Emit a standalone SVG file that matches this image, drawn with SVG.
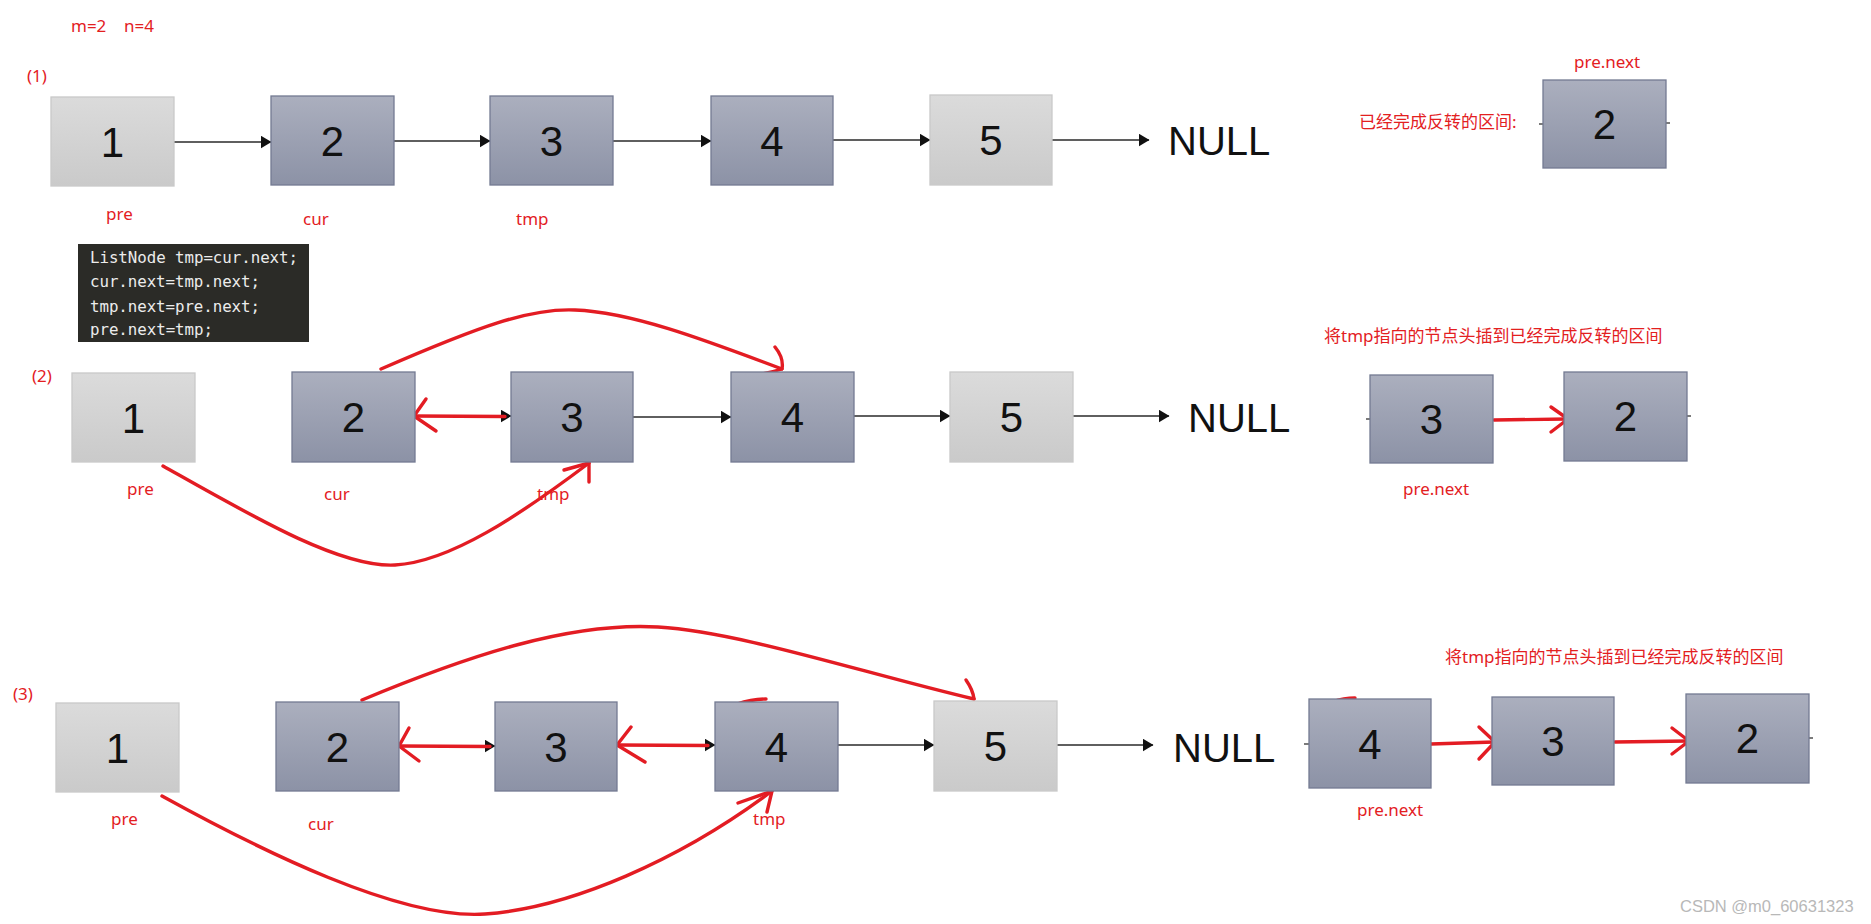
<svg xmlns="http://www.w3.org/2000/svg" width="1871" height="924" viewBox="0 0 1871 924">
<style>
.dk{fill:url(#gDark);stroke:#737a92;stroke-width:1.3}
.lt{fill:url(#gLight);stroke:#c9c9c9;stroke-width:1.3}
.num{font-family:"Liberation Sans",Arial,sans-serif;font-size:42px;fill:#111;text-anchor:middle}
.null{font-family:"Liberation Sans",Arial,sans-serif;font-size:40px;fill:#111}
.red{font-family:"Noto Sans","Noto Sans CJK SC",sans-serif;font-size:17px;fill:#e3201f}
.code{font-family:"DejaVu Sans Mono","Liberation Mono",monospace;font-size:15.8px;fill:#ececec}
.blk{stroke:#2a2a2a;stroke-width:1.4;fill:none;marker-end:url(#ah)}
.pen{stroke:#e31c23;stroke-width:3.4;fill:none;stroke-linecap:round;stroke-linejoin:round}
.tick{stroke:#333;stroke-width:1.3}
.wm{font-family:"Liberation Sans",Arial,sans-serif;font-size:16.5px;fill:#b8b8b8}
</style>
<defs>
<linearGradient id="gDark" x1="0" y1="0" x2="0" y2="1">
<stop offset="0" stop-color="#abafbe"/>
<stop offset="1" stop-color="#8c92a6"/>
</linearGradient>
<linearGradient id="gLight" x1="0" y1="0" x2="0" y2="1">
<stop offset="0" stop-color="#dbdbdb"/>
<stop offset="1" stop-color="#cacaca"/>
</linearGradient>
<marker id="ah" markerUnits="userSpaceOnUse" markerWidth="11" markerHeight="13" refX="10.5" refY="6.5" orient="auto">
<path d="M0,0 L11,6.5 L0,13 z" fill="#111"/>
</marker>
</defs>
<rect width="1871" height="924" fill="#fff"/>

<!-- headings -->
<text class="red" x="71" y="32">m=2<tspan x="124">n=4</tspan></text>
<text class="red" x="27" y="82">(1)</text>
<text class="red" x="32" y="382">(2)</text>
<text class="red" x="13" y="700">(3)</text>

<!-- code box -->
<g id="code">
<rect x="78" y="244" width="231" height="98" fill="#2b2b27"/>
<text class="code" x="90" y="263" textLength="208" lengthAdjust="spacing">ListNode tmp=cur.next;</text>
<text class="code" x="90" y="287" textLength="170" lengthAdjust="spacing">cur.next=tmp.next;</text>
<text class="code" x="90" y="312" textLength="170" lengthAdjust="spacing">tmp.next=pre.next;</text>
<text class="code" x="90" y="335" textLength="123" lengthAdjust="spacing">pre.next=tmp;</text>
</g>

<!-- connectors -->
<g id="connectors">
<!-- row 1 -->
<line class="blk" x1="174" y1="142" x2="271" y2="142"/>
<line class="blk" x1="394" y1="141" x2="490" y2="141"/>
<line class="blk" x1="613" y1="141" x2="711" y2="141"/>
<line class="blk" x1="833" y1="140" x2="930" y2="140"/>
<line class="blk" x1="1052" y1="140" x2="1149" y2="140"/>
<line class="tick" x1="1539" y1="124" x2="1543" y2="124"/>
<line class="tick" x1="1666" y1="123" x2="1670" y2="123"/>
<!-- row 2 -->
<line class="blk" x1="415" y1="416" x2="511" y2="416"/>
<line class="blk" x1="633" y1="417" x2="731" y2="417"/>
<line class="blk" x1="854" y1="416" x2="950" y2="416"/>
<line class="blk" x1="1073" y1="416" x2="1169" y2="416"/>
<line class="tick" x1="1366" y1="419" x2="1370" y2="419"/>
<line class="tick" x1="1687" y1="416" x2="1691" y2="416"/>
<path class="pen" d="M414,416 L505,416.5"/>
<path class="pen" d="M426,399 L414,416 L436,431"/>
<path class="pen" d="M381,369 C480,326 530,308 575,310 C630,312 700,338 782,369"/>
<path class="pen" d="M775,347 Q784,358 782,369 Q766,374 753,375"/>
<path class="pen" d="M163,466 C250,515 340,568 395,565 C450,562 520,515 589,463"/>
<path class="pen" d="M564,470 L589,463 L589,482"/>
<path class="pen" d="M1494,420 L1567,419"/>
<path class="pen" d="M1551,407 L1568,419 L1551,432"/>
<!-- row 3 -->
<line class="blk" x1="399" y1="746" x2="495" y2="746"/>
<line class="blk" x1="617" y1="745" x2="715" y2="745"/>
<line class="blk" x1="838" y1="745" x2="934" y2="745"/>
<line class="blk" x1="1057" y1="745" x2="1153" y2="745"/>
<line class="tick" x1="1304" y1="744" x2="1309" y2="744"/>
<line class="tick" x1="1809" y1="738" x2="1813" y2="738"/>
<path class="pen" d="M399,746 L490,746.5"/>
<path class="pen" d="M409,728 L399,746 L419,761"/>
<path class="pen" d="M617,745 L708,745.5"/>
<path class="pen" d="M631,727 L617,745 L645,762"/>
<path class="pen" d="M362,700 C470,655 570,622 658,627 C740,632 860,672 974,699"/>
<path class="pen" d="M966,680 Q973,690 974,699"/>
<path class="pen" d="M737,704 Q752,699 766,699" stroke-width="2.2"/>
<path class="pen" d="M162,796 C260,850 400,920 485,914 C570,908 680,860 772,791"/>
<path class="pen" d="M738,803 L772,791 L767,812"/>
<path class="pen" d="M1431,744 L1494,742"/>
<path class="pen" d="M1479,727 L1495,742 L1479,759"/>
<path class="pen" d="M1615,742 L1688,741"/>
<path class="pen" d="M1672,728 L1689,741 L1672,754"/>
<path class="pen" d="M1332,702 Q1344,698 1355,698" stroke-width="2.2"/>
</g>

<!-- row 1 nodes -->
<g id="r1n1"><rect class="lt" x="51" y="97" width="123" height="89"/><text class="num" x="112.5" y="157">1</text></g>
<g id="r1n2"><rect class="dk" x="271" y="96" width="123" height="89"/><text class="num" x="332.5" y="156">2</text></g>
<g id="r1n3"><rect class="dk" x="490" y="96" width="123" height="89"/><text class="num" x="551.5" y="156">3</text></g>
<g id="r1n4"><rect class="dk" x="711" y="96" width="122" height="89"/><text class="num" x="772" y="156">4</text></g>
<g id="r1n5"><rect class="lt" x="930" y="95" width="122" height="90"/><text class="num" x="991" y="155">5</text></g>
<g id="r1null"><text class="null" x="1168" y="155">NULL</text></g>
<g id="r1rev"><rect class="dk" x="1543" y="80" width="123" height="88"/><text class="num" x="1604.5" y="139">2</text></g>
<text class="red" x="106" y="220">pre</text>
<text class="red" x="303" y="225">cur</text>
<text class="red" x="516" y="225">tmp</text>
<text class="red" x="1574" y="68">pre.next</text>
<text class="red" x="1359" y="128">已经完成反转的区间:</text>

<!-- row 2 nodes -->
<g id="r2n1"><rect class="lt" x="72" y="373" width="123" height="89"/><text class="num" x="133.5" y="433">1</text></g>
<g id="r2n2"><rect class="dk" x="292" y="372" width="123" height="90"/><text class="num" x="353.5" y="432">2</text></g>
<g id="r2n3"><rect class="dk" x="511" y="372" width="122" height="90"/><text class="num" x="572" y="432">3</text></g>
<g id="r2n4"><rect class="dk" x="731" y="372" width="123" height="90"/><text class="num" x="792.5" y="432">4</text></g>
<g id="r2n5"><rect class="lt" x="950" y="372" width="123" height="90"/><text class="num" x="1011.5" y="432">5</text></g>
<g id="r2null"><text class="null" x="1188" y="432">NULL</text></g>
<g id="r2rev3"><rect class="dk" x="1370" y="375" width="123" height="88"/><text class="num" x="1431.5" y="434">3</text></g>
<g id="r2rev2"><rect class="dk" x="1564" y="372" width="123" height="89"/><text class="num" x="1625.5" y="431">2</text></g>
<text class="red" x="127" y="495">pre</text>
<text class="red" x="324" y="500">cur</text>
<text class="red" x="537" y="500">tmp</text>
<text class="red" x="1403" y="495">pre.next</text>
<text class="red" x="1324" y="342">将tmp指向的节点头插到已经完成反转的区间</text>

<!-- row 3 nodes -->
<g id="r3n1"><rect class="lt" x="56" y="703" width="123" height="89"/><text class="num" x="117.5" y="763">1</text></g>
<g id="r3n2"><rect class="dk" x="276" y="702" width="123" height="89"/><text class="num" x="337.5" y="762">2</text></g>
<g id="r3n3"><rect class="dk" x="495" y="702" width="122" height="89"/><text class="num" x="556" y="762">3</text></g>
<g id="r3n4"><rect class="dk" x="715" y="702" width="123" height="89"/><text class="num" x="776.5" y="762">4</text></g>
<g id="r3n5"><rect class="lt" x="934" y="701" width="123" height="90"/><text class="num" x="995.5" y="761">5</text></g>
<g id="r3null"><text class="null" x="1173" y="762">NULL</text></g>
<g id="r3rev4"><rect class="dk" x="1309" y="699" width="122" height="89"/><text class="num" x="1370" y="759">4</text></g>
<g id="r3rev3"><rect class="dk" x="1492" y="697" width="122" height="88"/><text class="num" x="1553" y="756">3</text></g>
<g id="r3rev2"><rect class="dk" x="1686" y="694" width="123" height="89"/><text class="num" x="1747.5" y="753">2</text></g>
<text class="red" x="111" y="825">pre</text>
<text class="red" x="308" y="830">cur</text>
<text class="red" x="753" y="825">tmp</text>
<text class="red" x="1357" y="816">pre.next</text>
<text class="red" x="1445" y="663">将tmp指向的节点头插到已经完成反转的区间</text>

<text class="wm" x="1680" y="912">CSDN @m0_60631323</text>
</svg>
